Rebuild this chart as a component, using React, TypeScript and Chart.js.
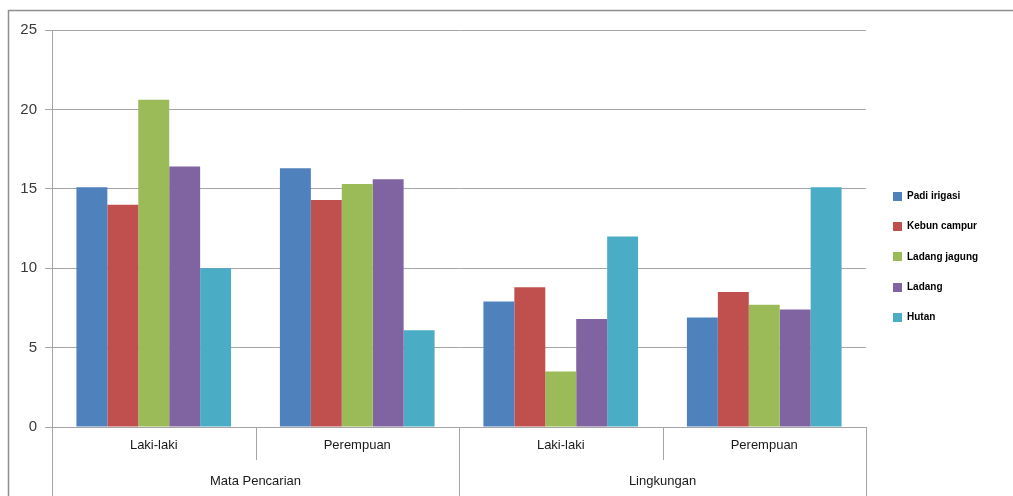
import React, { useEffect, useRef } from "react";
import { Chart, registerables } from "chart.js";

Chart.register(...registerables);

// Sub-categories along the x axis, and the groups that span them
const subCategories = ["Laki-laki", "Perempuan", "Laki-laki", "Perempuan"];
const groupNames = ["Mata Pencarian", "Lingkungan"];
const groupSpans = [2, 2];

// Series values per sub-category
const seriesNames = ["Padi irigasi", "Kebun campur", "Ladang jagung", "Ladang", "Hutan"];
const padiIrigasi = [15.1, 16.3, 7.9, 6.9];
const kebunCampur = [14.0, 14.3, 8.8, 8.5];
const ladangJagung = [20.6, 15.3, 3.5, 7.7];
const ladang = [16.4, 15.6, 6.8, 7.4];
const hutan = [10.0, 6.1, 12.0, 15.1];
const seriesColors = ["#4f81bd", "#c0504d", "#9bbb59", "#8064a2", "#4bacc6"];

// Value axis
const yMin = 0;
const yMax = 25;
const yStep = 5;

const LINE = "#a5a5a5";
const FONT = "'Liberation Sans', Arial, sans-serif";

// Outer frame of the chart object
const framePlugin = {
  id: "frame",
  beforeDraw(chart: any) {
    const { ctx, width, height } = chart;
    ctx.save();
    ctx.strokeStyle = "#8f8f8f";
    ctx.lineWidth = 1.5;
    ctx.beginPath();
    ctx.moveTo(8.5, height);
    ctx.lineTo(8.5, 10.5);
    ctx.lineTo(width, 10.5);
    ctx.stroke();
    ctx.restore();
  },
};

// Two-level category axis drawn under the plot area
const groupedAxisPlugin = {
  id: "groupedAxis",
  afterDraw(chart: any) {
    const { ctx, chartArea, height } = chart;
    const x = chart.scales.x;
    const n = chart.data.labels.length;
    const step = x.getPixelForValue(1) - x.getPixelForValue(0);
    const edge = (i: number) => x.getPixelForValue(i) - step / 2;

    const groupEdges = new Set<number>([0]);
    let acc = 0;
    groupSpans.forEach((s) => {
      acc += s;
      groupEdges.add(acc);
    });

    ctx.save();
    ctx.strokeStyle = LINE;
    ctx.lineWidth = 1;
    for (let i = 0; i <= n; i++) {
      const px = Math.round(edge(i)) + 0.5;
      const bottom = groupEdges.has(i) ? height : chartArea.bottom + 33;
      ctx.beginPath();
      ctx.moveTo(px, chartArea.bottom);
      ctx.lineTo(px, bottom);
      ctx.stroke();
    }

    ctx.fillStyle = "#1a1a1a";
    ctx.font = `13px ${FONT}`;
    ctx.textAlign = "center";
    ctx.textBaseline = "middle";
    chart.data.labels.forEach((lab: string, i: number) => {
      ctx.fillText(lab, x.getPixelForValue(i), chartArea.bottom + 18);
    });

    let start = 0;
    groupNames.forEach((g, gi) => {
      const end = start + groupSpans[gi];
      const mid = (edge(start) + edge(end)) / 2;
      ctx.fillText(g, mid, chartArea.bottom + 54);
      start = end;
    });
    ctx.restore();
  },
};

// Legend column on the right
const sideLegendPlugin = {
  id: "sideLegend",
  afterDraw(chart: any) {
    const { ctx } = chart;
    const x0 = 893;
    const y0 = 196;
    const gap = 30.4;
    ctx.save();
    ctx.font = `bold 10px ${FONT}`;
    ctx.textAlign = "left";
    ctx.textBaseline = "middle";
    chart.data.datasets.forEach((ds: any, i: number) => {
      const cy = y0 + i * gap;
      ctx.fillStyle = ds.backgroundColor;
      ctx.fillRect(x0, Math.round(cy - 4.5), 9, 9);
      ctx.fillStyle = "#000";
      ctx.fillText(ds.label, x0 + 14, cy);
    });
    ctx.restore();
  },
};

export default function App() {
  const canvasRef = useRef<HTMLCanvasElement | null>(null);

  useEffect(() => {
    if (!canvasRef.current) return;
    const values = [padiIrigasi, kebunCampur, ladangJagung, ladang, hutan];
    const chart = new Chart(canvasRef.current, {
      type: "bar",
      data: {
        labels: subCategories,
        datasets: seriesNames.map((name, i) => ({
          label: name,
          data: values[i],
          backgroundColor: seriesColors[i],
          borderWidth: 0,
          categoryPercentage: 0.76,
          barPercentage: 1,
        })),
      },
      options: {
        animation: false,
        responsive: true,
        maintainAspectRatio: false,
        layout: { padding: { top: 30, right: 147, bottom: 69, left: 0 } },
        plugins: {
          legend: { display: false },
          tooltip: { enabled: false },
        },
        scales: {
          x: {
            display: false,
          },
          y: {
            min: yMin,
            max: yMax,
            afterFit(scale: any) {
              scale.width = 52;
            },
            ticks: {
              stepSize: yStep,
              color: "#3a3a3a",
              padding: 8,
              font: { family: FONT, size: 15 },
            },
            grid: {
              color: LINE,
              tickLength: 7,
              lineWidth: 1,
            },
            border: { display: true, color: LINE, width: 1 },
          },
        },
      },
      plugins: [framePlugin, groupedAxisPlugin, sideLegendPlugin],
    });
    return () => chart.destroy();
  }, []);

  return (
    <div style={{ position: "fixed", left: 0, top: 0, width: 1013, height: 496, background: "#fff" }}>
      <canvas ref={canvasRef} />
    </div>
  );
}
